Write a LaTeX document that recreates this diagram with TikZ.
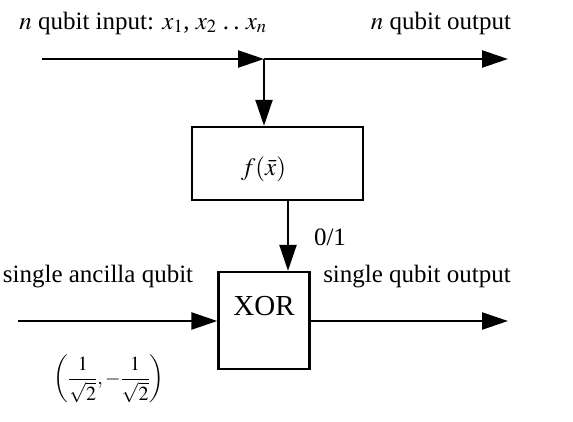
\documentclass[tikz,border=0pt]{standalone}
\usepackage{mathptmx}
\usepackage[no-math]{fontspec}
\setmainfont{Liberation Serif}
\usepackage{tikz}
\usetikzlibrary{arrows.meta,positioning,calc}
\tikzset{
  gate/.style={rectangle,draw,line width=2.4pt,inner sep=2pt},
  lbl/.style={inner sep=0pt},
}
\begin{document}
\begin{tikzpicture}[x=1pt,y=-1pt,>={Triangle[length=26pt,width=17pt]},line width=2.4pt,
  font=\fontsize{25}{30}\selectfont]
  \useasboundingbox (0,0) rectangle (573,421);
  % register lines
  \coordinate (inL) at (42,59);
  \coordinate (split) at (264,59);
  \coordinate (outR) at (508,59);
  \coordinate (ancL) at (18,321);
  \coordinate (ancR) at (508,321);
  \node[gate,minimum width=171pt,minimum height=73pt,text height=31pt] (fbox) at (277.5,163.5) {$f(\bar{x})$\hspace*{28pt}};
  \node[gate,minimum width=91pt,minimum height=97pt,text depth=30pt,font=\fontsize{29}{33}\selectfont] (xor) at (264,320.5) {XOR};
  \draw[->] (inL) -- (split);
  \draw[->] (split) -- (outR);
  \draw[->] (split) -- (split |- fbox.north);
  \draw[->] ($(fbox.south)+(10.5,0)$) coordinate (fout) -- (fout |- xor.north);
  \draw[->] (ancL) -- (xor.west |- ancL);
  \draw[->] (xor.east |- ancR) -- (ancR);
  % labels
  \node[lbl] (inlbl) at (143,23) {$n$ qubit input: $x_1$, $x_2$ .\,.\ $x_n$};
  \node[lbl] (outlbl) at (441,23) {$n$ qubit output};
  \node[lbl] (bitlbl) at (330,237) {0/1};
  \node[lbl] (anclbl) at (98,277) {single ancilla qubit};
  \node[lbl] (soutlbl) at (417,277) {single qubit output};
  \node[lbl,font=\fontsize{20}{24}\selectfont] (amplbl) at (109,379) {$\displaystyle\left(\frac{1}{\sqrt{2}},-\frac{1}{\sqrt{2}}\right)$};
\end{tikzpicture}
\end{document}
